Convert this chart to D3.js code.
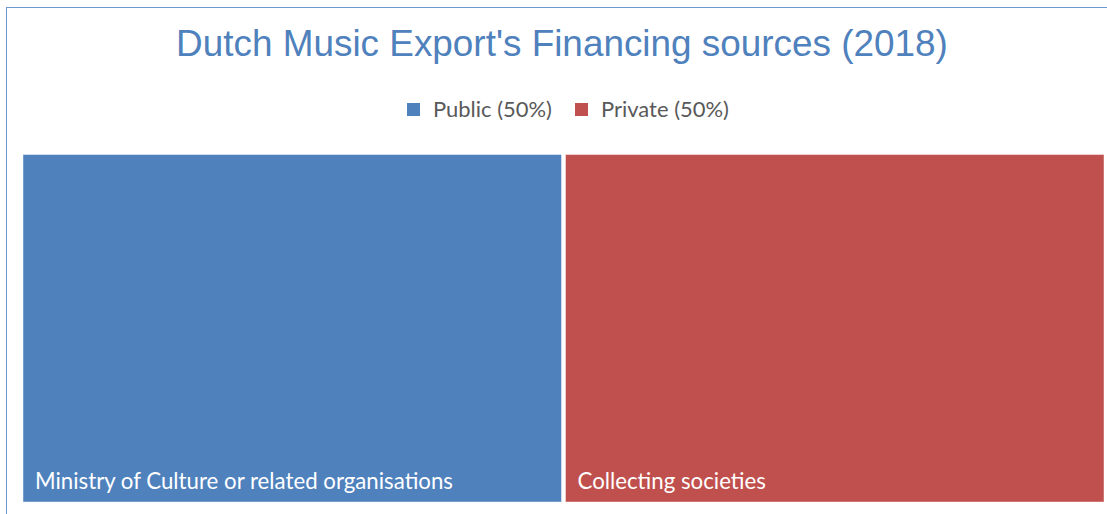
<!DOCTYPE html>
<html>
<head>
<meta charset="utf-8">
<script src="https://cdn.jsdelivr.net/npm/d3@7"></script>
<style>
  html, body { margin: 0; padding: 0; background: #fff; }
  svg { display: block; }
</style>
</head>
<body>
<svg id="chart" width="1107" height="514"></svg>
<script>
const title = "Dutch Music Export's Financing sources (2018)";
const groups = ["Public (50%)", "Private (50%)"];
const groupColors = ["#4f81bd", "#c0504d"];
const leaves = ["Ministry of Culture or related organisations", "Collecting societies"];
const leafGroup = [0, 1];
const values = [50, 50];

const svg = d3.select("#chart");

// outer border
svg.append("rect")
  .attr("x", 6.5).attr("y", 7.5)
  .attr("width", 1120).attr("height", 520)
  .attr("fill", "none").attr("stroke", "#6f98cc").attr("stroke-width", 1);

function fitText(sel, targetW) {
  const node = sel.node();
  const fs = parseFloat(sel.attr("font-size"));
  const w = node.getComputedTextLength();
  if (w > 0) sel.attr("font-size", (fs * targetW / w).toFixed(2));
}

// title
const t = svg.append("text")
  .attr("x", 562).attr("y", 56)
  .attr("text-anchor", "middle")
  .attr("font-family", "Liberation Sans, Arial, sans-serif")
  .attr("font-size", 36)
  .attr("fill", "#4f81bd")
  .text(title);
fitText(t, 772);

// hierarchy
const data = {
  name: "root",
  children: groups.map((g, gi) => ({
    name: g, gi,
    children: leaves.map((l, li) => ({ name: l, gi: leafGroup[li], value: values[li] }))
                    .filter(d => d.gi === gi)
  }))
};
const root = d3.hierarchy(data).sum(d => d.value || 0);
const ox = 23, oy = 154.5;
d3.treemap()
  .tile(d3.treemapSliceDice)
  .size([1104 - ox, 502 - oy])
  .paddingInner(4)
  .round(false)(root);

const cells = svg.append("g")
  .attr("transform", `translate(${ox},${oy})`)
  .selectAll("g")
  .data(root.leaves())
  .join("g");

cells.append("rect")
  .attr("x", d => d.x0).attr("y", d => d.y0)
  .attr("width", d => d.x1 - d.x0).attr("height", d => d.y1 - d.y0)
  .attr("fill", d => groupColors[d.data.gi])
  .attr("stroke", "rgba(255,255,255,0.45)")
  .attr("stroke-width", 1);

cells.append("text")
  .attr("x", d => d.x0 + 12).attr("y", d => d.y1 - 13.5)
  .attr("font-family", "Lato, Carlito, Calibri, sans-serif")
  .attr("font-size", 21)
  .attr("fill", "#ffffff")
  .text(d => d.data.name)
  .each(function(d, i) {
    if (i === 0) fitText(d3.select(this), 418);
  });
const fsLeaf = cells.select("text").attr("font-size");
cells.selectAll("text").attr("font-size", fsLeaf);

// legend
const legend = svg.append("g");
const legX = [407, 575];
groups.forEach((g, i) => {
  legend.append("rect")
    .attr("x", legX[i]).attr("y", 103)
    .attr("width", 13).attr("height", 13)
    .attr("fill", groupColors[i]);
  const lt = legend.append("text")
    .attr("x", legX[i] + 26).attr("y", 117)
    .attr("font-family", "Lato, Carlito, Calibri, sans-serif")
    .attr("font-size", 19)
    .attr("fill", "#595959")
    .text(g);
  if (i === 0) fitText(lt, 119);
  else fitText(lt, 128);
});
</script>
</body>
</html>
